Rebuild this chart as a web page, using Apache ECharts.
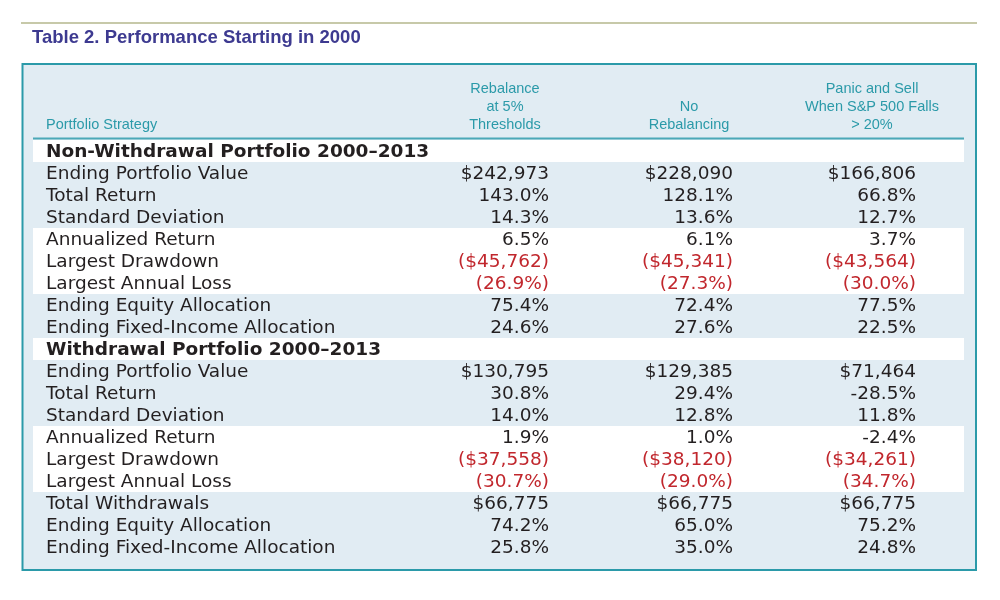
<!DOCTYPE html>
<html>
<head>
<meta charset="utf-8">
<script src="https://cdn.jsdelivr.net/npm/echarts@6/dist/echarts.min.js"></script>
<style>
  html, body { margin: 0; padding: 0; background: #fff; }
  #chart { width: 1000px; height: 600px; }
</style>
</head>
<body>
<div id="chart"></div>
<script>
const tableTitle = 'Table 2. Performance Starting in 2000';
const stubHeader = 'Portfolio Strategy';
const columnHeaders = ['Rebalance\nat 5%\nThresholds', 'No\nRebalancing', 'Panic and Sell\nWhen S&P 500 Falls\n> 20%'];
const sectionTitles = ['Non-Withdrawal Portfolio 2000\u20132013', 'Withdrawal Portfolio 2000\u20132013'];

const nonWithdrawalRows = ['Ending Portfolio Value', 'Total Return', 'Standard Deviation', 'Annualized Return',
  'Largest Drawdown', 'Largest Annual Loss', 'Ending Equity Allocation', 'Ending Fixed-Income Allocation'];
const withdrawalRows = ['Ending Portfolio Value', 'Total Return', 'Standard Deviation', 'Annualized Return',
  'Largest Drawdown', 'Largest Annual Loss', 'Total Withdrawals', 'Ending Equity Allocation', 'Ending Fixed-Income Allocation'];

const rebalanceNW = [242973, 143.0, 14.3, 6.5, -45762, -26.9, 75.4, 24.6];
const noRebalanceNW = [228090, 128.1, 13.6, 6.1, -45341, -27.3, 72.4, 27.6];
const panicNW = [166806, 66.8, 12.7, 3.7, -43564, -30.0, 77.5, 22.5];

const rebalanceW = [130795, 30.8, 14.0, 1.9, -37558, -30.7, 66775, 74.2, 25.8];
const noRebalanceW = [129385, 29.4, 12.8, 1.0, -38120, -29.0, 66775, 65.0, 35.0];
const panicW = [71464, -28.5, 11.8, -2.4, -34261, -34.7, 66775, 75.2, 24.8];

const dollarRows = ['Ending Portfolio Value', 'Largest Drawdown', 'Total Withdrawals'];
const lossRows = ['Largest Drawdown', 'Largest Annual Loss'];

// ---- build rows ----
const rows = [];
function addSection(title, labels, cols) {
  rows.push({ label: title, section: true, values: [] });
  labels.forEach((lab, k) => {
    rows.push({
      label: lab,
      section: false,
      white: Math.floor(k / 3) % 2 === 1,
      values: cols.map(c => c[k])
    });
  });
}
addSection(sectionTitles[0], nonWithdrawalRows, [rebalanceNW, noRebalanceNW, panicNW]);
addSection(sectionTitles[1], withdrawalRows, [rebalanceW, noRebalanceW, panicW]);

function fmt(label, v) {
  const isDollar = dollarRows.includes(label);
  const isLoss = lossRows.includes(label);
  const abs = Math.abs(v);
  let s = isDollar ? '$' + abs.toLocaleString('en-US') : abs.toFixed(1) + '%';
  if (v < 0) s = isLoss ? '(' + s + ')' : '-' + s;
  return { text: s, red: isLoss };
}

// layout (x in grid units, grid spans 0..931)
const GRID_W = 931;
const labelX = 13;
const colRight = [516, 700, 883];

const BODY_FONT = '18.5px "DejaVu Sans", Verdana, sans-serif';
const BOLD_FONT = 'bold 18.5px "DejaVu Sans", Verdana, sans-serif';
const TEXT = '#231f20';
const RED = '#c1272d';
const TEAL = '#2b9aa9';

const chart = echarts.init(document.getElementById('chart'));

const option = {
  animation: false,
  grid: { left: 33, top: 140, width: GRID_W, height: 418 },
  xAxis: { type: 'value', min: 0, max: GRID_W, show: false },
  yAxis: { type: 'category', inverse: true, show: false, data: rows.map((r, i) => i) },
  graphic: [
    { type: 'line', shape: { x1: 21, y1: 23, x2: 977, y2: 23 }, style: { stroke: '#b4b78c', lineWidth: 1.5 } },
    { type: 'text', style: { text: tableTitle, x: 32, y: 38, fill: '#3d3a90',
        font: 'bold 18.5px "Liberation Sans", Arial, sans-serif', align: 'left', verticalAlign: 'middle' } },
    { type: 'rect', shape: { x: 22.5, y: 64, width: 953.5, height: 506 },
      style: { fill: '#e1ecf3', stroke: TEAL, lineWidth: 2 } },
    { type: 'line', shape: { x1: 33, y1: 138.5, x2: 964, y2: 138.5 }, style: { stroke: '#4ba8b7', lineWidth: 2 } },
    { type: 'text', style: { text: stubHeader, x: 46, y: 134, fill: TEAL, lineHeight: 18,
        font: '14.5px "Liberation Sans", Arial, sans-serif', align: 'left', verticalAlign: 'bottom' } }
  ].concat(columnHeaders.map((h, j) => ({
    type: 'text', style: { text: h, x: 33 + colRight[j] - 44, y: 134, fill: TEAL, lineHeight: 18,
      font: '14.5px "Liberation Sans", Arial, sans-serif', align: 'center', verticalAlign: 'bottom' }
  }))),
  series: [{
    type: 'custom',
    data: rows.map((r, i) => [i]),
    clip: false,
    renderItem: function (params, api) {
      const i = api.value(0);
      const r = rows[i];
      const h = api.size([0, 1])[1];
      const left = api.coord([0, i]);
      const right = api.coord([GRID_W, i]);
      const children = [];
      if (r.section || r.white) {
        children.push({ type: 'rect', shape: { x: left[0], y: left[1] - h / 2, width: right[0] - left[0], height: h },
          style: { fill: '#ffffff' } });
      }
      const lp = api.coord([labelX, i]);
      children.push({ type: 'text', style: { text: r.label, x: lp[0], y: lp[1] + 1, align: 'left', verticalAlign: 'middle',
        font: r.section ? BOLD_FONT : BODY_FONT, fill: TEXT } });
      r.values.forEach((v, j) => {
        const f = fmt(r.label, v);
        const p = api.coord([colRight[j], i]);
        children.push({ type: 'text', style: { text: f.text, x: p[0], y: p[1] + 1, align: 'right', verticalAlign: 'middle',
          font: BODY_FONT, fill: f.red ? RED : TEXT } });
      });
      return { type: 'group', children: children };
    }
  }]
};

chart.setOption(option);
window.addEventListener('resize', () => chart.resize());
</script>
</body>
</html>
